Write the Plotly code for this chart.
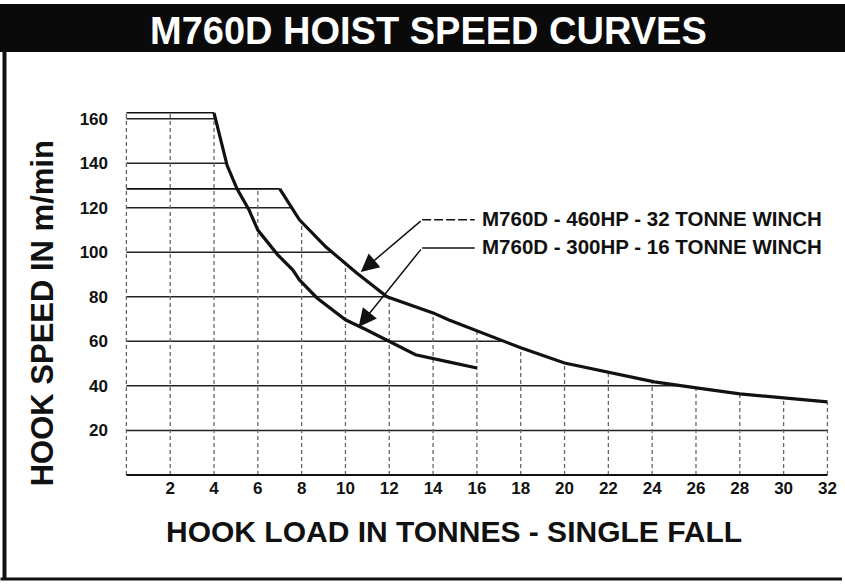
import numpy as np
import plotly.graph_objects as go

# ---- data ----
x_ticks = [2, 4, 6, 8, 10, 12, 14, 16, 18, 20, 22, 24, 26, 28, 30, 32]
y_ticks = [20, 40, 60, 80, 100, 120, 140, 160]

loads_300 = [4.0, 4.6, 5.05, 5.6, 6.0, 6.9, 7.6, 7.9, 8.7, 10.0, 10.95, 12.0, 13.2, 14.7, 16.0]
speed_300 = [162.7, 139.0, 128.5, 119.0, 110.0, 99.0, 92.0, 87.6, 79.5, 69.7, 65.2, 59.8, 54.0, 50.8, 48.0]

loads_460 = [7.0, 7.9, 9.1, 10.5, 11.9, 14.0, 14.7, 17.0, 18.0, 20.0, 22.0, 24.1, 26.1, 28.0, 30.0, 32.0]
speed_460 = [128.5, 114.6, 102.5, 90.8, 80.0, 72.8, 69.7, 60.7, 57.1, 50.3, 46.3, 41.8, 39.0, 36.4, 34.6, 32.8]

label_460 = "M760D - 460HP - 32 TONNE WINCH"
label_300 = "M760D - 300HP - 16 TONNE WINCH"
title_text = "M760D HOIST SPEED CURVES"
x_title = "HOOK LOAD IN TONNES - SINGLE FALL"
y_title = "HOOK SPEED IN m/min"

FONT = "Liberation Sans"
INK = "#111111"

# figure geometry
W, H = 845, 584
ML, MR, MT, MB = 122, 8, 97, 108
PW, PH = W - ML - MR, H - MT - MB


def px_x(p):
    return (p - ML) / PW


def px_y(p):
    return (H - MB - p) / PH


fig = go.Figure()

# envelope of both curves (incl. flat max-speed parts) for grid extents
xs = np.linspace(0, 32, 3201)
e300 = np.interp(xs, [0] + loads_300, [speed_300[0]] + speed_300, right=0)
e460 = np.interp(xs, [0] + loads_460, [speed_460[0]] + speed_460, right=0)
env = np.maximum(e300, e460)

shapes = []
# horizontal solid grid lines up to the curve
for v in y_ticks:
    xend = float(xs[env >= v].max())
    shapes.append(dict(type="line", xref="x", yref="y", x0=0, x1=xend, y0=v, y1=v,
                       line=dict(color="#222222", width=1.5), layer="below"))
# vertical dashed grid lines up to the curve
for t in [0] + x_ticks:
    top = float(np.interp(t, xs, env))
    shapes.append(dict(type="line", xref="x", yref="y", x0=t, x1=t, y0=0, y1=top,
                       line=dict(color="#666666", width=1.3, dash="4px,3px"), layer="below"))
# base line
shapes.append(dict(type="line", xref="x", yref="y", x0=0, x1=32, y0=0, y1=0,
                   line=dict(color=INK, width=2)))

# title bar and page frame
shapes.append(dict(type="rect", xref="paper", yref="paper",
                   x0=px_x(-5), x1=px_x(W + 5), y0=px_y(52), y1=px_y(4),
                   fillcolor="#0a0a0a", line=dict(width=0), layer="above"))
shapes.append(dict(type="line", xref="paper", yref="paper",
                   x0=px_x(4), x1=px_x(4), y0=px_y(50), y1=px_y(580),
                   line=dict(color=INK, width=4)))
shapes.append(dict(type="line", xref="paper", yref="paper",
                   x0=px_x(0), x1=px_x(W), y0=px_y(579), y1=px_y(579),
                   line=dict(color=INK, width=3)))

# leader lines for labels
shapes.append(dict(type="line", xref="x", yref="y", x0=13.5, x1=15.9, y0=114.6, y1=114.6,
                   line=dict(color=INK, width=1.5, dash="9px,3px")))
shapes.append(dict(type="line", xref="x", yref="y", x0=13.5, x1=15.9, y0=102.0, y1=102.0,
                   line=dict(color=INK, width=1.5)))

# curves: thin flat max-speed parts, thick speed curves
for loads, speeds, name in [(loads_460, speed_460, label_460), (loads_300, speed_300, label_300)]:
    fig.add_trace(go.Scatter(x=[0, loads[0]], y=[speeds[0], speeds[0]], mode="lines",
                             line=dict(color=INK, width=1.6), showlegend=False,
                             cliponaxis=False, hoverinfo="skip"))
    fig.add_trace(go.Scatter(x=loads, y=speeds, mode="lines", name=name,
                             line=dict(color=INK, width=3.2), showlegend=False,
                             cliponaxis=False))

annotations = [
    dict(text=f"<b>{title_text}</b>", xref="paper", yref="paper",
         x=px_x(430), y=px_y(31), showarrow=False,
         font=dict(family=FONT, size=38, color="white"), xanchor="center", yanchor="middle"),
    dict(text=f"<b>{x_title}</b>", xref="paper", yref="paper",
         x=px_x(455), y=px_y(531), showarrow=False,
         font=dict(family=FONT, size=30, color=INK), xanchor="center", yanchor="middle"),
    dict(text=f"<b>{y_title}</b>", xref="paper", yref="paper",
         x=px_x(42), y=px_y(313), showarrow=False, textangle=-90,
         font=dict(family=FONT, size=31, color=INK), xanchor="center", yanchor="middle"),
    dict(text=f"<b>{label_460}</b>", xref="x", yref="y", x=16.15, y=115.3,
         showarrow=False, xanchor="left", yanchor="middle",
         font=dict(family=FONT, size=20.5, color=INK)),
    dict(text=f"<b>{label_300}</b>", xref="x", yref="y", x=16.15, y=102.6,
         showarrow=False, xanchor="left", yanchor="middle",
         font=dict(family=FONT, size=20.5, color=INK)),
    dict(text="", x=10.7, y=91.2, xref="x", yref="y", ax=13.5, ay=114.6,
         axref="x", ayref="y", showarrow=True, arrowhead=2, arrowsize=2.4,
         arrowwidth=1.5, arrowcolor=INK, standoff=0),
    dict(text="", x=10.6, y=66.5, xref="x", yref="y", ax=13.5, ay=102.0,
         axref="x", ayref="y", showarrow=True, arrowhead=2, arrowsize=2.4,
         arrowwidth=1.5, arrowcolor=INK, standoff=0),
]

fig.update_layout(
    width=W, height=H,
    margin=dict(l=ML, r=MR, t=MT, b=MB, pad=0),
    paper_bgcolor="white", plot_bgcolor="white",
    showlegend=False,
    shapes=shapes, annotations=annotations,
    xaxis=dict(range=[-0.2, 32.3], tickvals=x_ticks, ticktext=[str(v) for v in x_ticks],
               showgrid=False, zeroline=False, showline=False, ticks="",
               tickfont=dict(family=FONT, size=17, color=INK, weight="bold")),
    yaxis=dict(range=[-0.5, 169.8], tickvals=y_ticks, ticktext=[str(v) for v in y_ticks],
               showgrid=False, zeroline=False, showline=False, ticks="",
               ticklabelstandoff=13,
               tickfont=dict(family=FONT, size=17, color=INK, weight="bold")),
)

fig.write_html("out.html", config={"displayModeBar": False},
               post_script="document.body.style.margin='0';document.body.style.padding='0';")
